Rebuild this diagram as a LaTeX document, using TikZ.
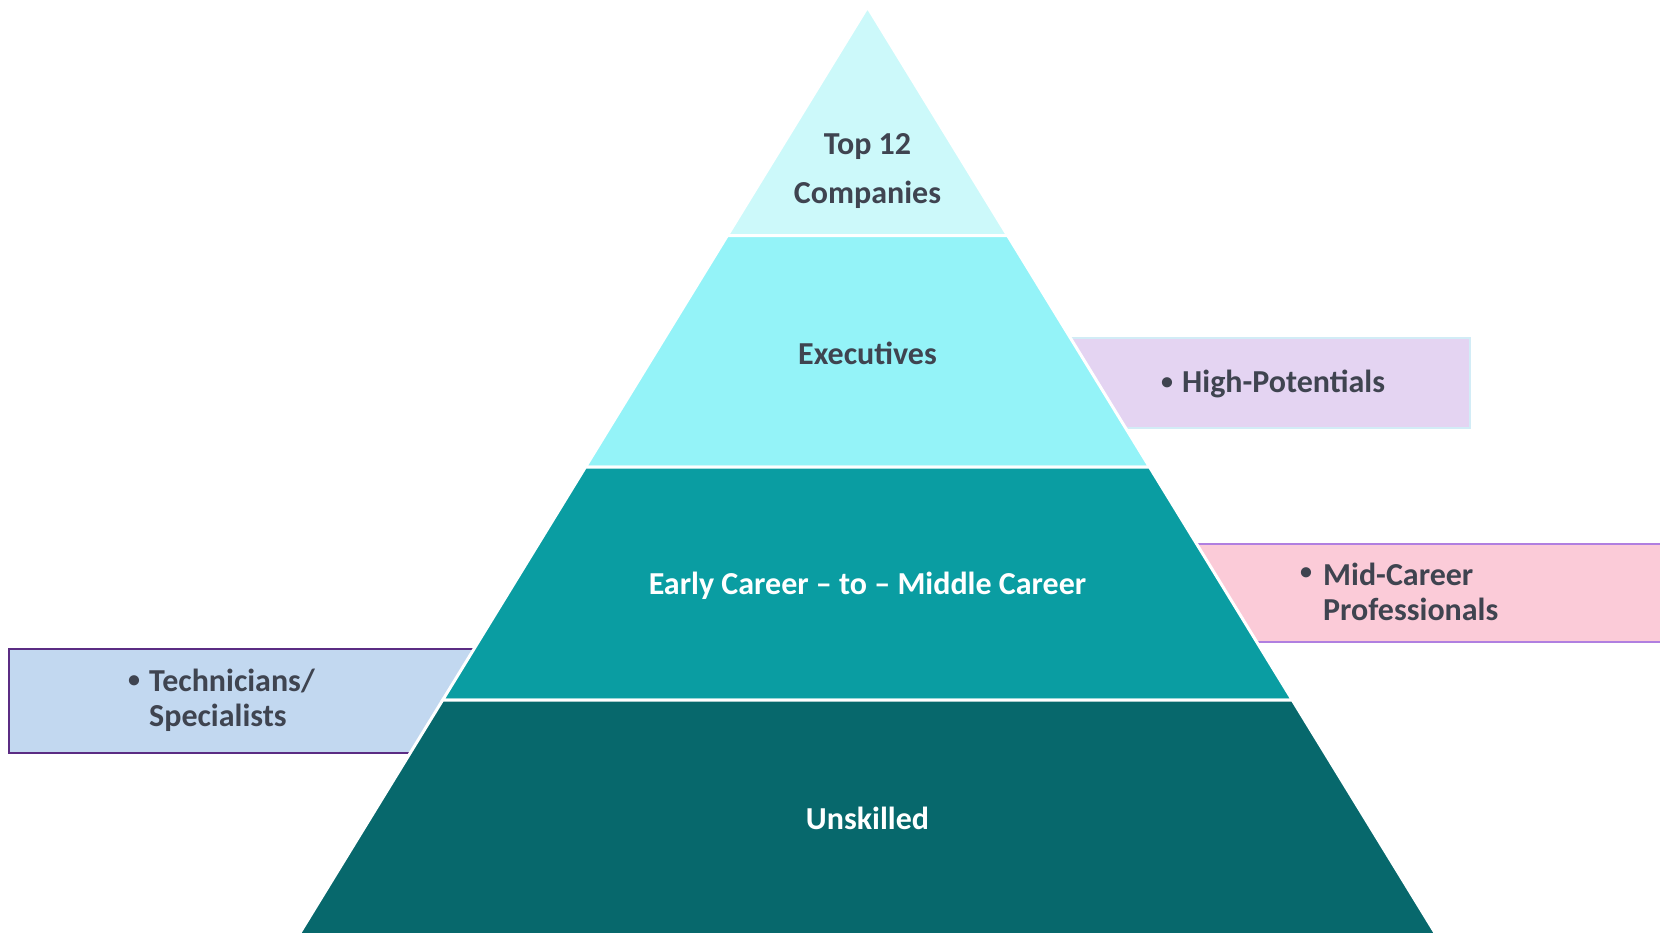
\documentclass[tikz,border=0pt]{standalone}
\usepackage{fontspec}
\setmainfont{Carlito}
\definecolor{tierA}{HTML}{CCF9FA}
\definecolor{tierB}{HTML}{94F3F8}
\definecolor{tierC}{HTML}{0A9DA2}
\definecolor{tierD}{HTML}{07686C}
\definecolor{txtdark}{HTML}{3F4450}
\definecolor{hpfill}{HTML}{E4D4F2}
\definecolor{hpline}{HTML}{D2ECF6}
\definecolor{mcfill}{HTML}{FBCBD8}
\definecolor{mcline}{HTML}{B07FE0}
\definecolor{tsfill}{HTML}{C2D8F0}
\definecolor{tsline}{HTML}{5B2C83}
\tikzset{
  tier/.style={draw=white, line width=3pt, line join=miter},
  tiertext/.style={font=\fontsize{32}{49}\selectfont\bfseries, align=center, inner sep=0pt},
  sidebox/.style={line width=2pt},
  sidetext/.style={font=\fontsize{32}{35}\selectfont\bfseries, text=txtdark, align=left, inner sep=0pt, anchor=west},
  bullettext/.style={font=\fontsize{24}{24}\selectfont\bfseries, text=txtdark, inner sep=0pt, anchor=west},
}
\begin{document}
\begin{tikzpicture}[x=1pt,y=-1pt]
\useasboundingbox (0,0) rectangle (1660,932);
\clip (0,0) rectangle (1660,932);
% side boxes (behind pyramid)
\draw[sidebox, fill=hpfill, draw=hpline] (900,338) rectangle (1470,428);
\draw[sidebox, fill=mcfill, draw=mcline] (1000,543.5) rectangle (1680,641.7);
\draw[sidebox, fill=tsfill, draw=tsline] (9,648.5) rectangle (700,752.5);
% pyramid tiers
\path[tier, fill=tierA] (867.5,7) -- (1007.6,235.5) -- (727.4,235.5) -- cycle;
\path[tier, fill=tierB] (727.4,235.5) -- (1007.6,235.5) -- (1149.5,467) -- (585.5,467) -- cycle;
\path[tier, fill=tierC] (585.5,467) -- (1149.5,467) -- (1292.3,700) -- (442.7,700) -- cycle;
\path[tier, fill=tierD] (442.7,700) -- (1292.3,700) -- (1442.5,945) -- (292.5,945) -- cycle;
% tier labels
\node[tiertext, text=txtdark] (top) at (867.5,171.5) {Top 12\\Companies};
\node[tiertext, text=txtdark] (exec) at (867.5,353.5) {Executives};
\node[tiertext, text=white] (early) at (867.5,586) {Early Career -- to -- Middle Career};
\node[tiertext, text=white] (unsk) at (867.5,818) {Unskilled};
% side labels
\node[bullettext] (hpb) at (1161,384) {\textbullet};
\node[sidetext] (hp) at (1182,384) {High-Potentials};
\node[bullettext] (mcb) at (1300,574) {\textbullet};
\node[sidetext] (mc) at (1323,592) {Mid-Career\\Professionals};
\node[bullettext] (tsb) at (128,682) {\textbullet};
\node[sidetext] (ts) at (149,700) {Technicians/\\Specialists};
\end{tikzpicture}
\end{document}
